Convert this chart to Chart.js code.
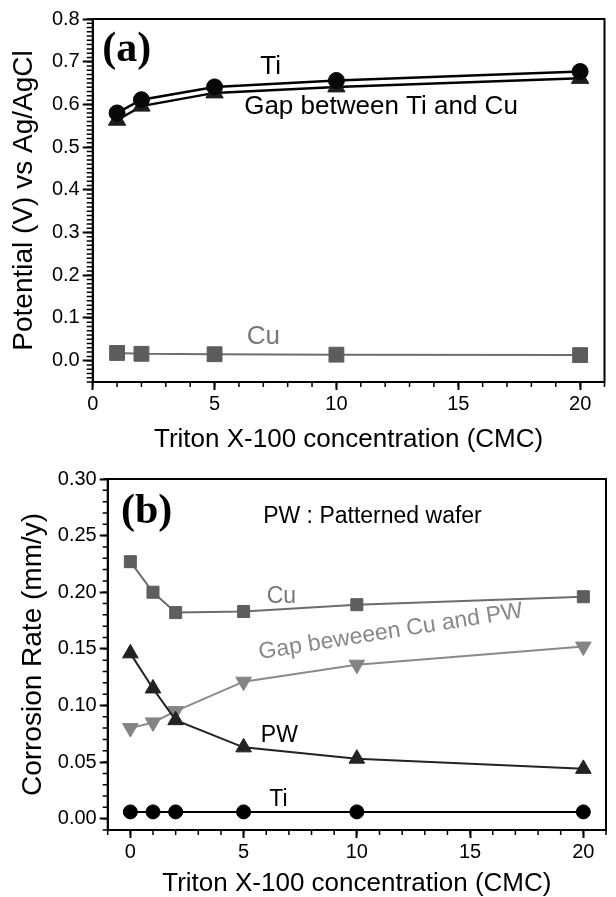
<!DOCTYPE html>
<html>
<head>
<meta charset="utf-8">
<script src="https://cdn.jsdelivr.net/npm/chart.js@4.4.1/dist/chart.umd.min.js"></script>
<style>
    html, body { margin: 0; padding: 0; background: #fff; }
    #wrap { position: relative; width: 616px; height: 897px; overflow: hidden; }
    canvas { position: absolute; left: 0; }
    #chartA { top: 0; }
    #chartB { top: 455px; }
</style>
</head>
<body>
<div id="wrap">
    <canvas id="chartA" width="616" height="455"></canvas>
    <canvas id="chartB" width="616" height="442"></canvas>
</div>
<script>
// (a) potential vs Triton X-100 concentration
const concA = [1, 2, 5, 10, 20];
const tiPotential = [0.580, 0.611, 0.641, 0.656, 0.677];
const gapPotential = [0.563, 0.596, 0.627, 0.641, 0.661];
const cuPotential = [0.018, 0.016, 0.015, 0.014, 0.013];
const xTicksA = [0, 5, 10, 15, 20];
const yTicksA = [0.0, 0.1, 0.2, 0.3, 0.4, 0.5, 0.6, 0.7, 0.8];

// (b) corrosion rate vs Triton X-100 concentration
const concB = [0, 1, 2, 5, 10, 20];
const cuRate = [0.227, 0.200, 0.182, 0.183, 0.189, 0.196];
const gapRate = [0.080, 0.085, 0.095, 0.121, 0.136, 0.152];
const pwRate = [0.146, 0.115, 0.087, 0.063, 0.053, 0.044];
const tiRate = [0.006, 0.006, 0.006, 0.006, 0.006, 0.006];
const xTicksB = [0, 5, 10, 15, 20];
const yTicksB = [0.00, 0.05, 0.10, 0.15, 0.20, 0.25, 0.30];

const SANS = 'Liberation Sans';

function pairs(xs, ys) {
    return xs.map((x, i) => ({ x: x, y: ys[i] }));
}

// box around the plot + short minor ticks on the left and bottom axes
const frame = {
    id: 'frame',
    afterDraw(chart, args, opts) {
        const { ctx, chartArea: a, scales } = chart;
        ctx.save();
        ctx.strokeStyle = '#000';
        ctx.lineWidth = 1.5;
        ctx.beginPath();
        const xs = scales.x, ys = scales.y;
        for (let i = Math.ceil(xs.min / opts.xStep); i * opts.xStep <= xs.max + 1e-9; i++) {
            const px = xs.getPixelForValue(i * opts.xStep);
            ctx.moveTo(px, a.bottom);
            ctx.lineTo(px, a.bottom + opts.xLen);
        }
        for (let i = Math.ceil(ys.min / opts.yStep - 1e-9); i * opts.yStep <= ys.max + 1e-9; i++) {
            const py = ys.getPixelForValue(i * opts.yStep);
            ctx.moveTo(a.left, py);
            ctx.lineTo(a.left - opts.yLen, py);
        }
        ctx.stroke();
        ctx.lineWidth = 2;
        ctx.strokeRect(a.left, a.top, a.right - a.left, a.bottom - a.top);
        ctx.restore();
    }
};

// text labels placed at data positions
const notes = {
    id: 'notes',
    afterDatasetsDraw(chart, args, opts) {
        const { ctx, scales } = chart;
        opts.items.forEach(n => {
            ctx.save();
            ctx.translate(scales.x.getPixelForValue(n.x), scales.y.getPixelForValue(n.y));
            if (n.rotate) ctx.rotate(n.rotate * Math.PI / 180);
            ctx.font = n.font;
            ctx.fillStyle = n.color || '#000';
            ctx.textAlign = 'center';
            ctx.textBaseline = 'middle';
            ctx.fillText(n.text, 0, 0);
            ctx.restore();
        });
    }
};

function axisX(min, max, ticks, height, titlePad) {
    return {
        type: 'linear', min: min, max: max,
        afterBuildTicks: s => { s.ticks = ticks.map(v => ({ value: v })); },
        afterFit: s => { s.height = height; },
        border: { color: '#000', width: 2 },
        grid: { drawOnChartArea: false, drawTicks: true, tickLength: 8, tickWidth: 2, tickColor: '#000', color: '#000' },
        ticks: { color: '#000', font: { family: SANS, size: 20 }, padding: 2, maxRotation: 0, autoSkip: false, callback: v => String(v) },
        title: { display: true, text: 'Triton X-100 concentration (CMC)', color: '#000', font: { family: SANS, size: 26, lineHeight: 1 }, padding: { top: 0, bottom: titlePad } }
    };
}

function axisY(min, max, ticks, width, digits, text, titlePad, tickLen) {
    return {
        type: 'linear', min: min, max: max,
        afterBuildTicks: s => { s.ticks = ticks.map(v => ({ value: v })); },
        afterFit: s => { s.width = width; },
        border: { color: '#000', width: 2 },
        grid: { drawOnChartArea: false, drawTicks: true, tickLength: tickLen, tickWidth: 2, tickColor: '#000', color: '#000' },
        ticks: { color: '#000', font: { family: SANS, size: 20 }, padding: 3, autoSkip: false, callback: v => v.toFixed(digits) },
        title: { display: true, text: text, color: '#000', font: { family: SANS, size: 28, lineHeight: 1.2 }, padding: { top: titlePad, bottom: 0 } }
    };
}

const base = {
    responsive: false,
    devicePixelRatio: 1,
    animation: false,
    events: [],
    elements: { line: { tension: 0 } }
};

new Chart(document.getElementById('chartA'), {
    type: 'scatter',
    data: {
        datasets: [
            { data: pairs(concA, tiPotential), showLine: true, borderColor: '#000', borderWidth: 2.5,
              pointStyle: 'circle', pointRadius: 8, pointBackgroundColor: '#080808', pointBorderColor: '#080808', pointBorderWidth: 1 },
            { data: pairs(concA, gapPotential), showLine: true, borderColor: '#000', borderWidth: 2.5,
              pointStyle: 'triangle', pointRadius: 10, pointBackgroundColor: '#1e1e1e', pointBorderColor: '#1e1e1e', pointBorderWidth: 1 },
            { data: pairs(concA, cuPotential), showLine: true, borderColor: '#6e6e6e', borderWidth: 2,
              pointStyle: 'rect', pointRadius: 10.5, pointBackgroundColor: '#5c5c5c', pointBorderColor: '#5c5c5c', pointBorderWidth: 1 }
        ]
    },
    options: Object.assign({}, base, {
        layout: { padding: { top: 19, right: 2, left: 0, bottom: 0 } },
        scales: {
            x: axisX(0, 21, xTicksA, 73, 2.5),
            y: axisY(-0.05, 0.8, yTicksA, 92.7, 1, 'Potential (V) vs Ag/AgCl', 7, 10)
        },
        plugins: {
            legend: { display: false },
            tooltip: { enabled: false },
            frame: { xStep: 1, xLen: 5, yStep: 0.01, yLen: 6 },
            notes: { items: [
                { text: '(a)', x: 1.4, y: 0.728, font: 'bold 42px "Liberation Serif"' },
                { text: 'Ti', x: 7.3, y: 0.688, font: '26px "Liberation Sans"' },
                { text: 'Gap between Ti and Cu', x: 11.83, y: 0.595, font: '26px "Liberation Sans"' },
                { text: 'Cu', x: 7.0, y: 0.056, font: '26px "Liberation Sans"', color: '#777' }
            ] }
        }
    }),
    plugins: [frame, notes]
});

new Chart(document.getElementById('chartB'), {
    type: 'scatter',
    data: {
        datasets: [
            { data: pairs(concB, tiRate), showLine: true, borderColor: '#000', borderWidth: 2,
              pointStyle: 'circle', pointRadius: 7, pointBackgroundColor: '#000', pointBorderColor: '#000', pointBorderWidth: 1 },
            { data: pairs(concB, pwRate), showLine: true, borderColor: '#222', borderWidth: 2,
              pointStyle: 'triangle', pointRadius: 9, pointBackgroundColor: '#222', pointBorderColor: '#222', pointBorderWidth: 1 },
            { data: pairs(concB, gapRate), showLine: true, borderColor: '#8a8a8a', borderWidth: 2,
              pointStyle: 'triangle', pointRotation: 180, pointRadius: 9, pointBackgroundColor: '#848484', pointBorderColor: '#848484', pointBorderWidth: 1 },
            { data: pairs(concB, cuRate), showLine: true, borderColor: '#6c6c6c', borderWidth: 2,
              pointStyle: 'rect', pointRadius: 8.5, pointBackgroundColor: '#5e5e5e', pointBorderColor: '#5e5e5e', pointBorderWidth: 1 }
        ]
    },
    options: Object.assign({}, base, {
        layout: { padding: { top: 24, right: 3.5, left: 0, bottom: 0 } },
        scales: {
            x: axisX(-1, 21, xTicksB, 67, 0.5),
            y: axisY(-0.01, 0.30, yTicksB, 107.7, 2, 'Corrosion Rate (mm/y)', 16, 8)
        },
        plugins: {
            legend: { display: false },
            tooltip: { enabled: false },
            frame: { xStep: 1, xLen: 5, yStep: 0.01, yLen: 5 },
            notes: { items: [
                { text: '(b)', x: 0.72, y: 0.271, font: 'bold 42px "Liberation Serif"' },
                { text: 'PW : Patterned wafer', x: 10.69, y: 0.2664, font: '23px "Liberation Sans"' },
                { text: 'Cu', x: 6.67, y: 0.196, font: '23px "Liberation Sans"', color: '#777' },
                { text: 'Gap beweeen Cu and PW', x: 11.5, y: 0.165, rotate: -9, font: '23px "Liberation Sans"', color: '#888' },
                { text: 'PW', x: 6.58, y: 0.073, font: '23px "Liberation Sans"' },
                { text: 'Ti', x: 6.54, y: 0.0164, font: '23px "Liberation Sans"' }
            ] }
        }
    }),
    plugins: [frame, notes]
});
</script>
</body>
</html>
